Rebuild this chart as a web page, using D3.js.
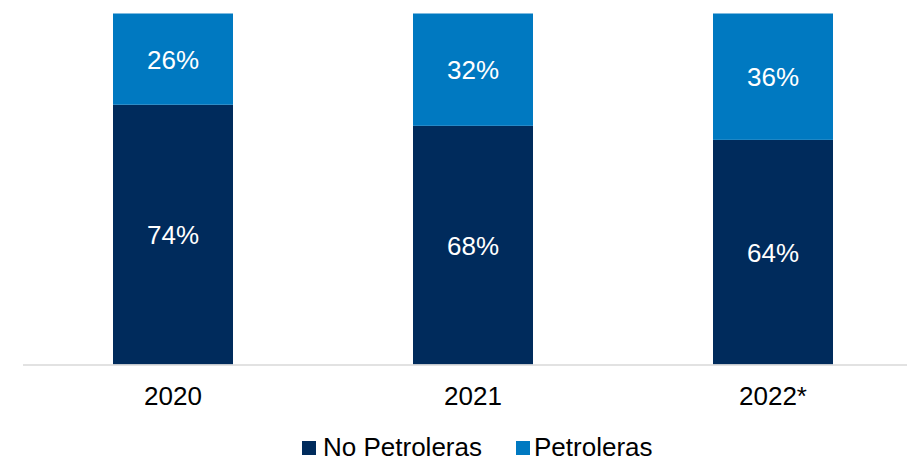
<!DOCTYPE html>
<html><head><meta charset="utf-8">
<script src="https://cdn.jsdelivr.net/npm/d3@7"></script>
<style>body{margin:0;background:#fff;}svg{display:block;font-family:"Liberation Sans",Arial,sans-serif;}</style>
</head><body>
<svg id="c" width="907" height="462"></svg>
<script>
const categories = ["2020","2021","2022*"];
const noPetroleras = [74,68,64];
const petroleras = [26,32,36];
const seriesNames = ["No Petroleras","Petroleras"];
const colors = ["#002B5C","#0079C1"];

const svg = d3.select("#c");
const baseY=364.5, topY=13.5;
const y = d3.scaleLinear().domain([0,100]).range([baseY, topY]);
const xc = d3.scalePoint().domain(categories).range([173,773]);
const bw = 120;

const data = categories.map((c,i)=>({cat:c, vals:[noPetroleras[i], petroleras[i]]}));
const series = d3.stack().keys([0,1]).value((d,k)=>d.vals[k])(data);

series.forEach((s,k)=>{
  svg.append("g").selectAll("rect").data(s).join("rect")
    .attr("x",d=>xc(d.data.cat)-bw/2).attr("width",bw)
    .attr("y",d=>y(d[1])).attr("height",d=>y(d[0])-y(d[1]))
    .attr("fill",colors[k]);
  svg.append("g").selectAll("text").data(s).join("text")
    .attr("x",d=>xc(d.data.cat)).attr("y",d=>(y(d[0])+y(d[1]))/2+9.5)
    .attr("text-anchor","middle").attr("fill","#fff").attr("font-size",26)
    .text(d=>d.data.vals[k]+"%");
});

svg.append("line").attr("x1",23).attr("x2",907).attr("y1",baseY+0.5).attr("y2",baseY+0.5)
  .attr("stroke","#d9d9d9").attr("stroke-width",1.5);

svg.append("g").selectAll("text").data(categories).join("text")
  .attr("x",d=>xc(d)).attr("y",405).attr("text-anchor","middle")
  .attr("font-size",26).attr("fill","#000").text(d=>d);

const leg = [{x:302,tx:323},{x:516,tx:534}];
seriesNames.forEach((n,i)=>{
  svg.append("rect").attr("x",leg[i].x).attr("y",441).attr("width",14).attr("height",14).attr("fill",colors[i]);
  svg.append("text").attr("x",leg[i].tx).attr("y",456).attr("font-size",26).attr("fill","#000").text(n);
});
</script>
</body></html>
